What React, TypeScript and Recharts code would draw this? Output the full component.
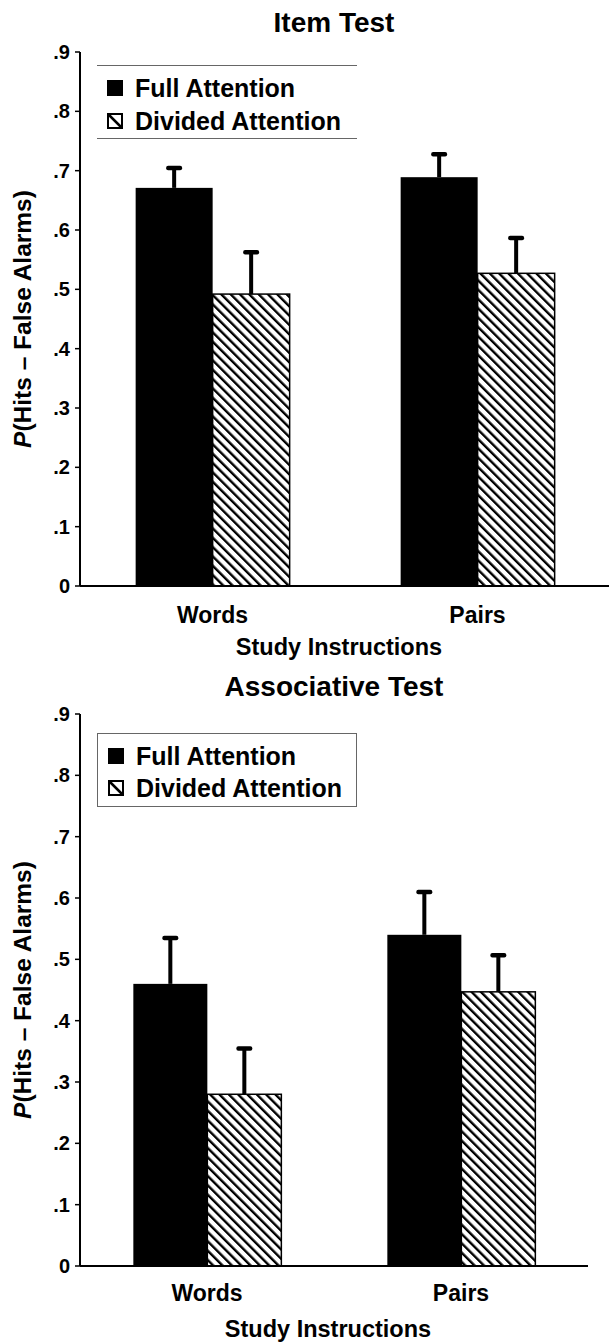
import { BarChart, Bar, XAxis, YAxis, Legend } from 'recharts';

const FONT = '"Liberation Sans", Arial, Helvetica, sans-serif';

const categories = ['Words', 'Pairs'];
const yTicks = [0, 0.1, 0.2, 0.3, 0.4, 0.5, 0.6, 0.7, 0.8, 0.9];
const boundaryTicks = [0, 1, 2];

const itemFull = [0.671, 0.689];
const itemFullErr = [0.034, 0.039];
const itemDivided = [0.492, 0.527];
const itemDividedErr = [0.071, 0.06];

const assocFull = [0.46, 0.54];
const assocFullErr = [0.075, 0.07];
const assocDivided = [0.28, 0.447];
const assocDividedErr = [0.075, 0.06];

function buildRows(full: number[], fullErr: number[], divided: number[], dividedErr: number[]) {
  return categories.map((cat, i) => ({
    cat,
    full: full[i],
    fullErr: fullErr[i],
    divided: divided[i],
    dividedErr: dividedErr[i],
  }));
}

const itemRows = buildRows(itemFull, itemFullErr, itemDivided, itemDividedErr);
const assocRows = buildRows(assocFull, assocFullErr, assocDivided, assocDividedErr);

function fmtTick(v: number): string {
  if (v === 0) return '0';
  return '.' + Math.round(v * 10);
}

// bar + one-sided (upward) error whisker, length taken from the bar's own scale
function makeShape(key: string, errKey: string, hatched: boolean) {
  return (props: any) => {
    const { x, y, width, height, payload } = props;
    const val = payload[key];
    const errPx = val ? (payload[errKey] * height) / val : 0;
    const cx = x + width / 2;
    const top = y - errPx;
    return (
      <g>
        <rect
          x={x}
          y={y}
          width={width}
          height={height}
          fill={hatched ? 'url(#hatch)' : '#000'}
          stroke="#000"
          strokeWidth={hatched ? 1.5 : 0}
        />
        <rect x={cx - 2} y={top} width={4} height={errPx} fill="#000" />
        <rect x={cx - 8} y={top - 2} width={16} height={4.5} rx={2} fill="#000" />
      </g>
    );
  };
}

function makeCatTick(dy: number) {
  return (props: any) => {
    const { x, y, payload } = props;
    return (
      <text x={x} y={y + dy} textAnchor="middle" dominantBaseline="central" fontFamily={FONT} fontWeight="bold" fontSize={23} fill="#000">
        {payload.value}
      </text>
    );
  };
}

function makeXTitle(dy: number) {
  return (props: any) => {
    const vb = props.viewBox;
    return (
      <text x={vb.x + vb.width / 2 - 6} y={vb.y + dy} textAnchor="middle" dominantBaseline="central" fontFamily={FONT} fontWeight="bold" fontSize={23.5} fill="#000">
        Study Instructions
      </text>
    );
  };
}

function YTitle(props: any) {
  const vb = props.viewBox;
  const cy = vb.y + vb.height / 2;
  return (
    <text x={22} y={cy} transform={`rotate(-90 22 ${cy})`} textAnchor="middle" dominantBaseline="central" fontFamily={FONT} fontWeight="bold" fontSize={24.5} fill="#000">
      <tspan fontStyle="italic">P</tspan>
      <tspan>(Hits – False Alarms)</tspan>
    </text>
  );
}

function Swatch({ hatched }: { hatched: boolean }) {
  return (
    <svg width={16} height={16} style={{ position: 'absolute', left: 10, top: -8 }}>
      {hatched ? (
        <g>
          <rect x={1} y={1} width={14} height={14} fill="#fff" stroke="#000" strokeWidth={2} />
          <line x1={1} y1={1} x2={15} y2={15} stroke="#000" strokeWidth={2.5} />
        </g>
      ) : (
        <rect x={0} y={0} width={16} height={16} fill="#000" />
      )}
    </svg>
  );
}

function LegendBox({ boxed, rows }: { boxed: boolean; rows: number[] }) {
  const labels = ['Full Attention', 'Divided Attention'];
  return (
    <div
      style={{
        position: 'relative',
        width: 260,
        height: 74,
        boxSizing: 'border-box',
        borderTop: '1.5px solid #666',
        borderBottom: '1.5px solid #666',
        borderLeft: boxed ? '1.5px solid #666' : 'none',
        borderRight: boxed ? '1.5px solid #666' : 'none',
        background: '#fff',
        fontFamily: FONT,
      }}
    >
      {labels.map((l, i) => (
        <div key={l} style={{ position: 'absolute', left: 0, top: rows[i], width: '100%' }}>
          <Swatch hatched={i === 1} />
          <span
            style={{
              position: 'absolute',
              left: 38,
              top: -15,
              fontSize: 25,
              lineHeight: '30px',
              fontWeight: 'bold',
              whiteSpace: 'nowrap',
              color: '#000',
            }}
          >
            {l}
          </span>
        </div>
      ))}
    </div>
  );
}

function Panel({ data, width, height, right, axisHeight, labelDy, titleDy, legendTop, boxed }: any) {
  return (
    <BarChart
      width={width}
      height={height}
      data={data}
      margin={{ top: 52, right, bottom: 0, left: 0 }}
      barCategoryGap="21%"
      barGap={0}
    >
      <XAxis
        xAxisId="bnd"
        type="number"
        domain={[0, 2]}
        ticks={boundaryTicks}
        allowDataOverflow
        height={0}
        tick={false}
        axisLine={false}
        tickLine={{ stroke: '#000', strokeWidth: 1.5 }}
        tickSize={7}
      />
      <XAxis
        dataKey="cat"
        height={axisHeight}
        axisLine={{ stroke: '#000', strokeWidth: 2 }}
        tickLine={false}
        tickSize={0}
        tick={makeCatTick(labelDy)}
        label={{ content: makeXTitle(titleDy) }}
      />
      <XAxis xAxisId="top" orientation="top" dataKey="cat" height={0} tick={false} tickLine={false} axisLine={{ stroke: '#000', strokeWidth: 2 }} />
      <YAxis
        domain={[0, 0.9]}
        ticks={yTicks}
        interval={0}
        tickFormatter={fmtTick}
        width={80}
        tickSize={5}
        tickMargin={5}
        axisLine={{ stroke: '#000', strokeWidth: 2 }}
        tickLine={{ stroke: '#000', strokeWidth: 1.5 }}
        tick={{ fill: '#000', fontSize: 20, fontWeight: 'bold', fontFamily: FONT }}
        label={{ content: YTitle }}
      />
      <YAxis yAxisId="right" orientation="right" domain={[0, 0.9]} width={0} tick={false} tickLine={false} axisLine={{ stroke: '#000', strokeWidth: 2 }} />
      <Legend
        layout="vertical"
        align="center"
        verticalAlign="middle"
        wrapperStyle={{ left: 97, top: legendTop, width: 260, height: 74 }}
        content={() => <LegendBox boxed={boxed} rows={boxed ? [22, 54] : [22, 55]} />}
      />
      <Bar dataKey="full" shape={makeShape('full', 'fullErr', false)} isAnimationActive={false} />
      <Bar dataKey="divided" shape={makeShape('divided', 'dividedErr', true)} isAnimationActive={false} />
    </BarChart>
  );
}

const titleStyle = {
  position: 'absolute' as const,
  left: 0,
  width: 668,
  textAlign: 'center' as const,
  fontFamily: FONT,
  fontWeight: 'bold' as const,
  fontSize: 28,
  lineHeight: '32px',
  color: '#000',
};

export default function App() {
  return (
    <div
      style={{
        position: 'absolute',
        left: 0,
        top: 0,
        width: 609,
        height: 1342,
        overflow: 'hidden',
        background: '#fff',
        fontFamily: FONT,
      }}
    >
      <svg width={0} height={0} style={{ position: 'absolute' }}>
        <defs>
          <pattern id="hatch" width={6.6} height={6.6} patternUnits="userSpaceOnUse" patternTransform="rotate(-45)">
            <rect width={6.6} height={6.6} fill="#fff" />
            <rect width={2.4} height={6.6} fill="#000" />
          </pattern>
        </defs>
      </svg>

      <div style={{ ...titleStyle, top: 7 }}>Item Test</div>
      <div style={{ position: 'absolute', left: 0, top: 0 }}>
        <Panel data={itemRows} width={640} height={670} right={30} axisHeight={84} labelDy={27} titleDy={61} legendTop={65} boxed={false} />
      </div>

      <div style={{ ...titleStyle, top: 671 }}>Associative Test</div>
      <div style={{ position: 'absolute', left: 0, top: 662 }}>
        <Panel data={assocRows} width={600} height={680} right={12} axisHeight={76} labelDy={25} titleDy={63} legendTop={71} boxed={true} />
      </div>
    </div>
  );
}
